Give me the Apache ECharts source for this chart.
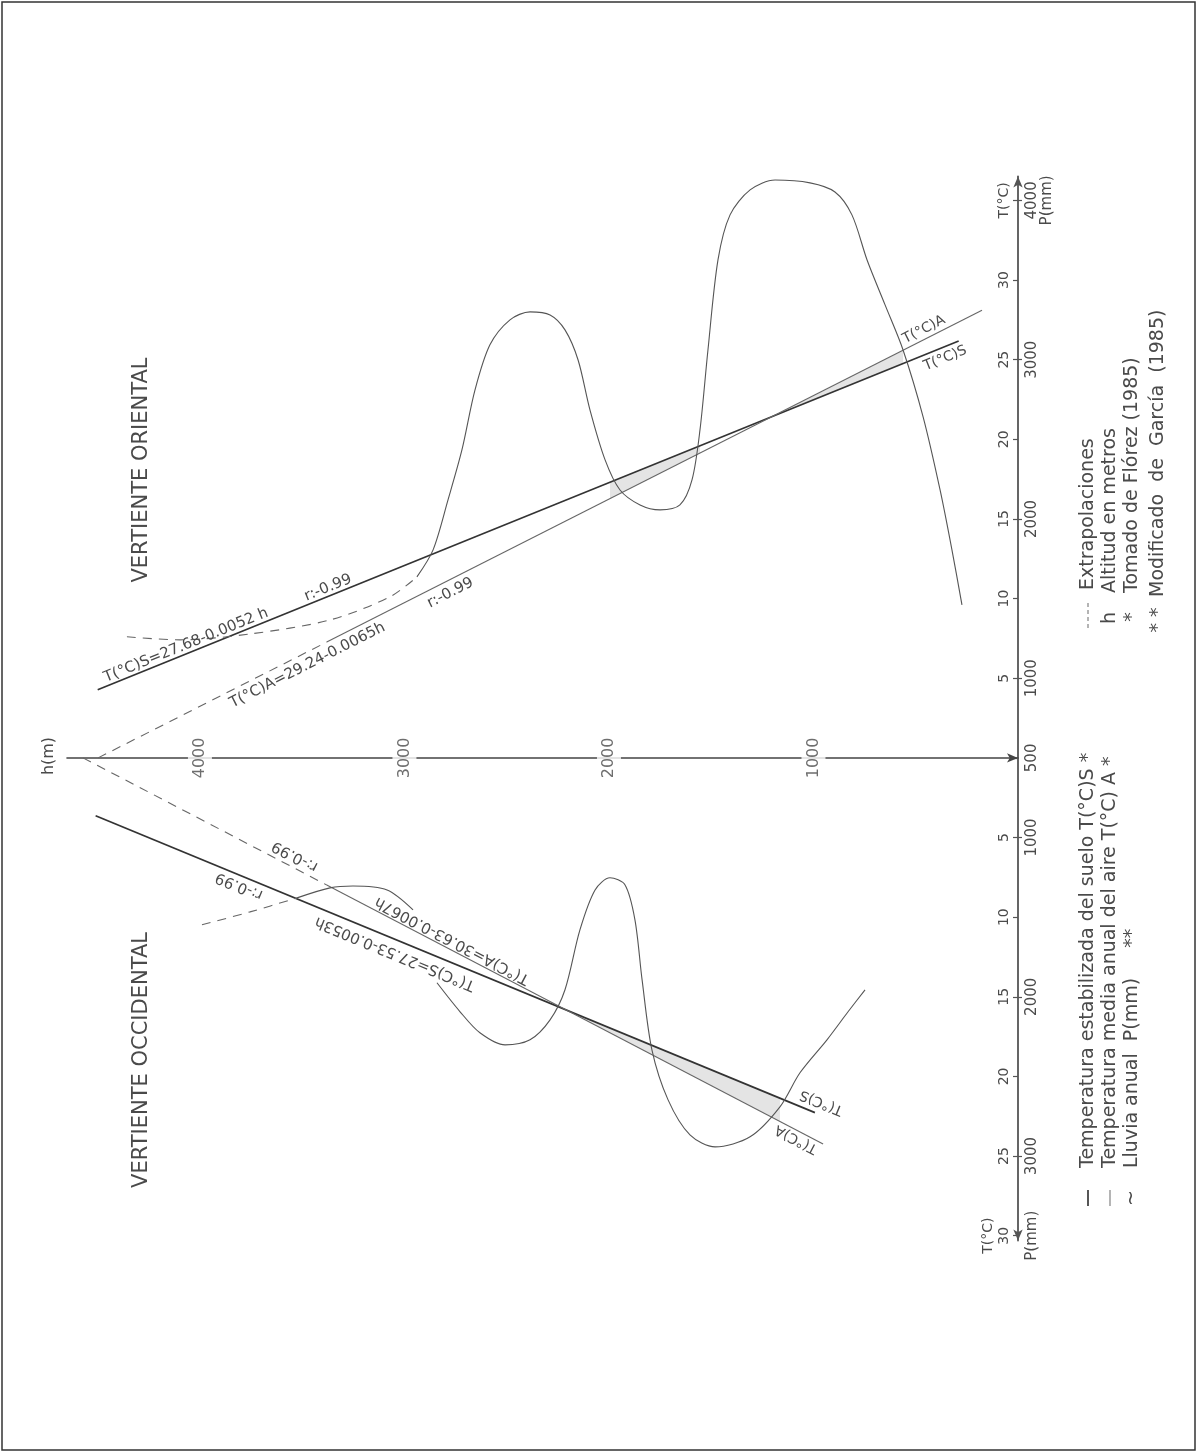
<!DOCTYPE html>
<html>
<head>
<meta charset="utf-8">
<script src="https://cdn.jsdelivr.net/npm/echarts@6/dist/echarts.min.js"></script>
<style>
html,body{margin:0;padding:0;background:#fff;}
#c{width:1197px;height:1452px;}
</style>
</head>
<body>
<div id="c"></div>
<script>
// ---------------- data ----------------
// altitude ticks (m)
const hTicks = [1000, 2000, 3000, 4000];
// temperature axis: signed (east side up, west side down)
const tTickValues = [-30, -25, -20, -15, -10, -5, 0, 5, 10, 15, 20, 25, 30, 35];
const tLabelValues = [-30, -25, -20, -15, -10, -5, 5, 10, 15, 20, 25, 30, 35];
const tLabelTexts = ['T(°C)\n30', '25', '20', '15', '10', '5', '5', '10', '15', '20', '25', '30', 'T(°C)'];
// rainfall scale labels, placed at temperature-axis positions
const pLabelValues = [-30, -25, -15, -5, 0, 5, 15, 25, 35];
const pLabelTexts = ['P(mm)', '3000', '2000', '1000', '500', '1000', '2000', '3000', '4000\nP(mm)'];
const pTickValues = [-25, -15, -5, 5, 15, 25, 35];

// regression lines [h (m), T (°C)] ; west side plotted downward (negative)
const eastSoilLine  = [[4500, 4.28], [290, 26.17]];
const eastAirDashed = [[4498, 0], [3380, 7.27]];
const eastAirLine   = [[3380, 7.27], [176, 28.10]];
const westSoilLine  = [[4510, -3.63], [993, -22.27]];
const westAirDashed = [[4572, 0], [3380, -7.98]];
const westAirLine   = [[3380, -7.98], [953, -24.24]];

// annual rainfall curves [h (m), P (mm)]
const eastRainDashed = [[4357, 1260], [4097, 1241], [3755, 1278], [3364, 1366], [3071, 1511], [2939, 1636]];
const eastRain = [[2939, 1636], [2860, 1806], [2787, 2120], [2719, 2433], [2655, 2810], [2582, 3093],
  [2484, 3250], [2386, 3300], [2288, 3281], [2215, 3187], [2151, 2998], [2093, 2685], [2019, 2371],
  [1946, 2182], [1848, 2088], [1750, 2057], [1653, 2088], [1594, 2245], [1555, 2559], [1516, 3061],
  [1467, 3626], [1408, 3909], [1310, 4066], [1188, 4128], [1017, 4110], [895, 4053], [812, 3909],
  [738, 3626], [650, 3344], [562, 3061], [464, 2641], [381, 2182], [323, 1806], [274, 1460]];
const westRainDashed = [[3990, 1548], [3755, 1467], [3525, 1379]];
const westRainA = [[3525, 1379], [3364, 1316], [3252, 1304], [3085, 1329], [2958, 1454]];
const westRainB = [[2841, 1912], [2728, 2094], [2631, 2226], [2508, 2302], [2386, 2270], [2288, 2145],
  [2215, 1956], [2142, 1580], [2068, 1329], [1995, 1253], [1922, 1297], [1873, 1517], [1838, 1894],
  [1790, 2333], [1711, 2647], [1604, 2867], [1481, 2942], [1310, 2879], [1164, 2691], [1066, 2477],
  [934, 2270], [831, 2094], [748, 1956]];

// shaded wedges between the two temperature lines [h, T]
const shadeAreas = [
  [[1200, 21.44], [562, 25.59], [562, 24.76]],
  [[1995, 17.31], [1555, 19.59], [1555, 19.13], [1995, 16.27]],
  [[2214, -15.80], [1164, -21.36], [1164, -22.83]]
];

// ---------------- chart ----------------
const FONT = '"DejaVu Sans", "Noto Sans", sans-serif';
const INK = '#4a4a4a';
const Y_MIN = -30.3, Y_MAX = 36.5;

// rainfall (mm) to temperature-axis units: 500 mm at origin, 100 mm per °C division
const eastP = pts => pts.map(([h, p]) => [h, (p - 500) / 100]);
const westP = pts => pts.map(([h, p]) => [h, -(p - 500) / 100]);

function lineSeries(data, color, width, dashed, smooth) {
  return {
    type: 'line', data: data, symbol: 'none', silent: true, z: 3,
    smooth: smooth ? 0.3 : false, animation: false,
    lineStyle: { color: color, width: width, type: dashed ? [9, 7] : 'solid' }
  };
}

const chart = echarts.init(document.getElementById('c'), null, { renderer: 'canvas' });

const option = {
  animation: false,
  backgroundColor: '#ffffff',
  grid: { left: 67, right: 179, top: 176.5, bottom: 211.5 },
  xAxis: {
    type: 'value', min: 0, max: 4650, inverse: true,
    axisLine: { onZero: true, symbol: ['none', 'arrow'], symbolSize: [7, 11],
      lineStyle: { color: '#444', width: 1.6 } },
    axisTick: { show: false },
    splitLine: { show: false },
    axisLabel: { show: false }
  },
  yAxis: [{
    type: 'value', min: Y_MIN, max: Y_MAX, position: 'right',
    axisLine: { show: true, onZero: false, symbol: ['arrow', 'arrow'], symbolSize: [7, 11],
      lineStyle: { color: '#555', width: 1.8 } },
    axisTick: { show: true, inside: true, length: 5, customValues: tTickValues,
      lineStyle: { color: '#555', width: 1.2 } },
    axisLabel: {
      inside: true, rotate: 90, margin: 6, customValues: tLabelValues,
      formatter: v => tLabelTexts[tLabelValues.indexOf(Math.round(v))],
      fontSize: 14, lineHeight: 16, color: INK, fontFamily: FONT
    },
    splitLine: { show: false }
  }, {
    type: 'value', min: Y_MIN, max: Y_MAX, position: 'right',
    axisLine: { show: false, onZero: false },
    axisTick: { show: true, length: 4, customValues: pTickValues,
      lineStyle: { color: '#555', width: 1.2 } },
    axisLabel: {
      rotate: 90, margin: 7, customValues: pLabelValues,
      formatter: v => pLabelTexts[pLabelValues.indexOf(Math.round(v))],
      fontSize: 15, lineHeight: 15, color: INK, fontFamily: FONT
    },
    splitLine: { show: false }
  }],
  series: [
    {
      type: 'custom', coordinateSystem: 'cartesian2d', z: 1, silent: true,
      data: shadeAreas.map(p => p[0]),
      renderItem: (params, api) => ({
        type: 'polygon',
        shape: { points: shadeAreas[params.dataIndex].map(v => api.coord(v)) },
        style: { fill: '#e4e4e4' }
      })
    },
    lineSeries(eastSoilLine, '#333', 1.7, false, false),
    lineSeries(eastAirDashed, '#666', 1.1, true, false),
    lineSeries(eastAirLine, '#666', 1.1, false, false),
    lineSeries(westSoilLine, '#333', 1.7, false, false),
    lineSeries(westAirDashed, '#666', 1.1, true, false),
    lineSeries(westAirLine, '#666', 1.1, false, false),
    lineSeries(eastP(eastRainDashed), '#666', 1.1, true, true),
    lineSeries(eastP(eastRain), '#555', 1.1, false, true),
    lineSeries(westP(westRainDashed), '#666', 1.1, true, true),
    lineSeries(westP(westRainA), '#555', 1.1, false, true),
    lineSeries(westP(westRainB), '#555', 1.1, false, true),
    {
      // altitude tick labels sitting on the h axis
      type: 'scatter', silent: true, z: 6, symbolSize: 1,
      itemStyle: { color: 'rgba(0,0,0,0)' },
      data: hTicks.map(h => [h, 0]),
      label: {
        show: true, position: 'inside', rotate: 90,
        formatter: p => String(p.value[0]),
        fontSize: 16, color: INK, fontFamily: FONT,
        backgroundColor: '#ffffff', padding: [4, 2]
      }
    }
  ]
};
chart.setOption(option);

// ---------- annotations ----------
const eastAirFull = [eastAirDashed[0], eastAirLine[1]];
const westAirFull = [westAirDashed[0], westAirLine[1]];
const lineLabels = [
  { text: 'T(°C)S=27.68-0.0052 h', line: eastSoilLine, h: 4053, off: 8 },
  { text: 'r:-0.99', line: eastSoilLine, h: 3359, off: 8 },
  { text: 'T(°C)A=29.24-0.0065h', line: eastAirFull, h: 3501, off: -12 },
  { text: 'r:-0.99', line: eastAirFull, h: 2802, off: -12 },
  { text: 'T(°C)A', line: eastAirFull, h: 440, off: 9, size: 14 },
  { text: 'T(°C)S', line: eastSoilLine, h: 376, off: -11, size: 14 },
  { text: 'T(°C)A=30.63-0.0067h', line: westAirFull, h: 2787, off: -9, flip: true },
  { text: 'T(°C)S=27.53-0.0053h', line: westSoilLine, h: 3022, off: 13, flip: true },
  { text: 'r:-0.99', line: westAirFull, h: 3560, off: -11, flip: true },
  { text: 'r:-0.99', line: westSoilLine, h: 3789, off: 10, flip: true },
  { text: 'T(°C)S', line: westSoilLine, h: 983, off: -12, flip: true, size: 14 },
  { text: 'T(°C)A', line: westAirFull, h: 1066, off: 8, flip: true, size: 14 }
];

function txt(text, x, y, rot, size, align, extra) {
  return Object.assign({
    type: 'text', x: x, y: y, rotation: rot, silent: true, z: 10,
    style: {
      text: text, fill: INK, fontSize: size, fontFamily: FONT,
      align: align, textAlign: align, verticalAlign: 'middle', textVerticalAlign: 'middle'
    }
  }, extra || {});
}

function placeLabel(L) {
  const a = L.line[0], b = L.line[1];
  const pa = chart.convertToPixel({ gridIndex: 0 }, a);
  const pb = chart.convertToPixel({ gridIndex: 0 }, b);
  const t = (L.h - a[0]) / (b[0] - a[0]);
  const px = pa[0] + (pb[0] - pa[0]) * t, py = pa[1] + (pb[1] - pa[1]) * t;
  let rx = pb[0] - pa[0], ry = pb[1] - pa[1];
  if (L.flip) { rx = -rx; ry = -ry; }
  const th = Math.atan2(-ry, rx);
  const ux = -Math.sin(th), uy = -Math.cos(th);
  return txt(L.text, px + ux * L.off, py + uy * L.off, th, L.size || 15, 'center');
}

const R90 = Math.PI / 2;
const LEG = 19;
const graphics = [
  { type: 'rect', shape: { x: 2, y: 2, width: 1193, height: 1448 }, silent: true, z: 0,
    style: { fill: null, stroke: '#333', lineWidth: 1.5 } },
  txt('h(m)', 49, 756, R90, 16, 'center'),
  txt('VERTIENTE ORIENTAL', 142, 470, R90, 21, 'center'),
  txt('VERTIENTE OCCIDENTAL', 142, 1060, R90, 21, 'center'),
  // legend, left column
  { type: 'line', shape: { x1: 1088, y1: 1206, x2: 1088, y2: 1190 }, silent: true,
    style: { stroke: '#444', lineWidth: 1.8 } },
  { type: 'line', shape: { x1: 1110, y1: 1206, x2: 1110, y2: 1190 }, silent: true,
    style: { stroke: '#777', lineWidth: 1.1 } },
  txt('~', 1132, 1198, R90, LEG, 'center'),
  txt('Temperatura estabilizada del suelo T(°C)S *', 1088, 1168, R90, LEG, 'left'),
  txt('Temperatura media anual del aire T(°C) A *', 1110, 1168, R90, LEG, 'left'),
  txt('Lluvia anual  P(mm)     **', 1132, 1168, R90, LEG, 'left'),
  // legend, right column
  { type: 'line', shape: { x1: 1088, y1: 628, x2: 1088, y2: 603 }, silent: true,
    style: { stroke: '#777', lineWidth: 1.1, lineDash: [4, 3] } },
  txt('Extrapolaciones', 1088, 590, R90, LEG, 'left'),
  txt('h', 1110, 618, R90, LEG, 'center'),
  txt('Altitud en metros', 1110, 593, R90, LEG, 'left'),
  txt('*', 1132, 617, R90, LEG, 'center'),
  txt('Tomado de Flórez (1985)', 1132, 593, R90, LEG, 'left'),
  txt('* *', 1158, 620, R90, LEG, 'center'),
  txt('Modificado  de  García  (1985)', 1158, 597, R90, LEG, 'left')
].concat(lineLabels.map(placeLabel));

chart.setOption({ graphic: { elements: graphics } });
</script>
</body>
</html>
